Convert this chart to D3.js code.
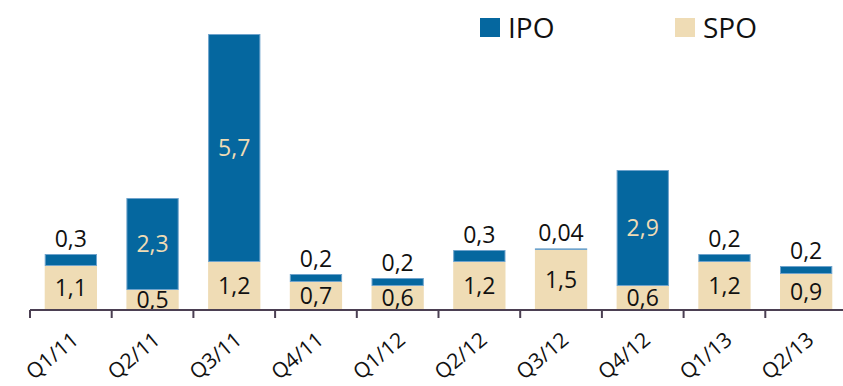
<!DOCTYPE html>
<html>
<head>
<meta charset="utf-8">
<script src="https://cdn.jsdelivr.net/npm/d3@7/dist/d3.min.js"></script>
<style>
  html, body { margin: 0; padding: 0; background: #fff; }
  svg { display: block; font-family: "Open Sans", "Noto Sans", sans-serif; }
</style>
</head>
<body>
<svg id="chart" width="843" height="386"></svg>
<script>
// Quarterly placement volumes, IPO stacked on top of SPO
const quarters = ["Q1/11", "Q2/11", "Q3/11", "Q4/11", "Q1/12", "Q2/12", "Q3/12", "Q4/12", "Q1/13", "Q2/13"];
const spoValues = [1.1, 0.5, 1.2, 0.7, 0.6, 1.2, 1.5, 0.6, 1.2, 0.9];
const ipoValues = [0.3, 2.3, 5.7, 0.2, 0.2, 0.3, 0.04, 2.9, 0.2, 0.2];
const seriesNames = ["IPO", "SPO"];

const IPO_COLOR = "#05679f";
const SPO_COLOR = "#efdcb5";
const AXIS_COLOR = "#4b3f52";

const fmt = v => String(v).replace(".", ",");

const svg = d3.select("#chart");

const x = d3.scaleBand()
  .domain(quarters)
  .range([30, 847])
  .paddingInner(0.36)
  .paddingOuter(0.18);

const y = d3.scaleLinear()
  .domain([0, 7])
  .range([310, 30]);

const rows = quarters.map((q, i) => ({ q, spo: spoValues[i], ipo: ipoValues[i] }));
const cx = q => x(q) + x.bandwidth() / 2;

// SPO segments
svg.append("g").selectAll("rect")
  .data(rows)
  .join("rect")
  .attr("x", d => x(d.q))
  .attr("width", x.bandwidth())
  .attr("y", d => y(d.spo))
  .attr("height", d => y(0) - y(d.spo))
  .attr("fill", SPO_COLOR);

// IPO segments
svg.append("g").selectAll("rect")
  .data(rows)
  .join("rect")
  .attr("x", d => x(d.q) + 0.5)
  .attr("width", x.bandwidth() - 1)
  .attr("y", d => y(d.spo + d.ipo) + 0.5)
  .attr("height", d => Math.max(0.5, y(d.spo) - y(d.spo + d.ipo) - 1))
  .attr("fill", IPO_COLOR)
  .attr("stroke", "#6fa3cc")
  .attr("stroke-width", 1);

// SPO value labels, centred in the segment
svg.append("g").selectAll("text")
  .data(rows)
  .join("text")
  .attr("x", d => cx(d.q))
  .attr("y", d => (y(0) + y(d.spo)) / 2 + 8)
  .attr("text-anchor", "middle")
  .attr("font-size", 23)
  .attr("fill", "#111")
  .text(d => fmt(d.spo));

// IPO value labels: inside large segments, above the bar otherwise
svg.append("g").selectAll("text")
  .data(rows)
  .join("text")
  .attr("x", d => cx(d.q))
  .attr("y", d => d.ipo >= 1
    ? (y(d.spo) + y(d.spo + d.ipo)) / 2 + 8
    : y(d.spo + d.ipo) - 7)
  .attr("text-anchor", "middle")
  .attr("font-size", 23)
  .attr("fill", d => d.ipo >= 1 ? SPO_COLOR : "#111")
  .text(d => fmt(d.ipo));

// X axis with ticks at category boundaries
const axisG = svg.append("g").attr("stroke", AXIS_COLOR).attr("stroke-width", 2);
axisG.append("line")
  .attr("x1", 30).attr("x2", 847)
  .attr("y1", 310).attr("y2", 310);
axisG.selectAll("line.tick")
  .data(quarters)
  .join("line")
  .attr("class", "tick")
  .attr("x1", d => x(d) - x.step() * x.paddingInner() / 2)
  .attr("x2", d => x(d) - x.step() * x.paddingInner() / 2)
  .attr("y1", 310).attr("y2", 318);

// Rotated category labels
svg.append("g").selectAll("text")
  .data(quarters)
  .join("text")
  .attr("transform", d => `translate(${cx(d) + 9},342) rotate(-40)`)
  .attr("text-anchor", "end")
  .attr("font-size", 21)
  .attr("fill", "#111")
  .text(d => d);

// Legend
const legend = svg.append("g");
const legendX = [480, 675];
const legendColors = [IPO_COLOR, SPO_COLOR];
seriesNames.forEach((name, i) => {
  legend.append("rect")
    .attr("x", legendX[i]).attr("y", 18)
    .attr("width", 20).attr("height", 19)
    .attr("fill", legendColors[i]);
  legend.append("text")
    .attr("x", legendX[i] + 28).attr("y", 38)
    .attr("font-size", 28)
    .attr("fill", "#111")
    .text(name);
});
</script>
</body>
</html>
